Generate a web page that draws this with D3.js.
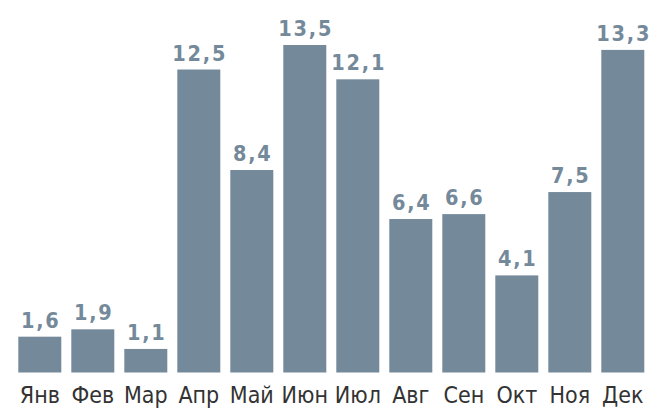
<!DOCTYPE html>
<html><head><meta charset="utf-8">
<script src="https://cdn.jsdelivr.net/npm/d3@7/dist/d3.min.js"></script>
<style>
html,body{margin:0;padding:0;background:#fff;}
svg{display:block;}
</style></head>
<body>
<svg id="c" width="655" height="412"></svg>
<script>
const months = ["Янв","Фев","Мар","Апр","Май","Июн","Июл","Авг","Сен","Окт","Ноя","Дек"];
const values = [1.6,1.9,1.1,12.5,8.4,13.5,12.1,6.4,6.6,4.1,7.5,13.3];
const valueLabels = ["1,6","1,9","1,1","12,5","8,4","13,5","12,1","6,4","6,6","4,1","7,5","13,3"];

const svg = d3.select("#c");
const barColor = "#74899a";
const baseline = 372.5;

const x = d3.scaleBand().domain(months).range([13.3, 649.3]).paddingInner(10/53).paddingOuter(5/53);
const y = d3.scaleLinear().domain([0, 13.5]).range([375.9, 45]);

const data = months.map((m,i)=>({m, v: values[i], l: valueLabels[i]}));

svg.selectAll("rect.bar").data(data).join("rect")
  .attr("class","bar")
  .attr("x", d=>x(d.m))
  .attr("width", x.bandwidth())
  .attr("y", d=>y(d.v))
  .attr("height", d=>baseline - y(d.v))
  .attr("fill", barColor);

svg.selectAll("text.val").data(data).join("text")
  .attr("class","val")
  .attr("x", d=>x(d.m) + x.bandwidth()/2 + 1)
  .attr("y", d=>y(d.v) - 9)
  .attr("text-anchor","middle")
  .attr("font-family","'DejaVu Sans Condensed', 'DejaVu Sans', sans-serif")
  .attr("font-weight","bold")
  .attr("font-size", 21.5)
  .attr("letter-spacing", 1.8)
  .attr("fill", barColor)
  .text(d=>d.l);

const xAxis = d3.axisBottom(x).tickSize(0).tickPadding(0);
const g = svg.append("g").attr("transform", `translate(0, ${baseline})`).call(xAxis);
g.select(".domain").remove();
g.selectAll("text")
  .attr("dy", null)
  .attr("y", 30.5)
  .attr("font-family","'DejaVu Sans Condensed', 'DejaVu Sans', sans-serif")
  .attr("font-size", 23)
  .attr("fill", "#333333");
</script>
</body></html>
